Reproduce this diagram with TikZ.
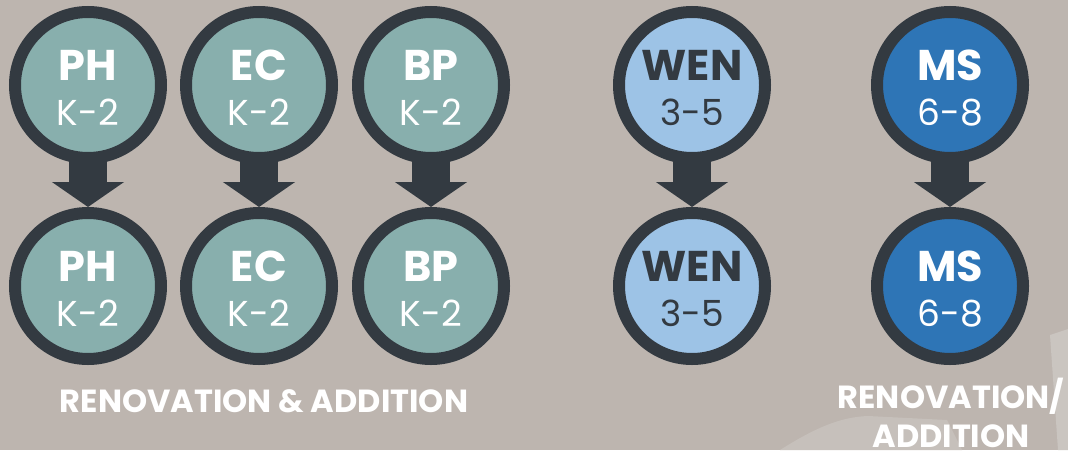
\documentclass[tikz,border=0pt]{standalone}
\usepackage{fontspec}
\setmainfont{Poppins}
\usetikzlibrary{arrows.meta,calc}
\definecolor{bgc}{HTML}{BDB5AF}
\definecolor{ringc}{HTML}{333A41}
\definecolor{tealc}{HTML}{88AFAD}
\definecolor{lbluec}{HTML}{9DC3E6}
\definecolor{bluec}{HTML}{2E75B6}
\definecolor{lightc}{HTML}{CAC5C0}
\definecolor{lightd}{HTML}{C6C0BB}
\begin{document}
\begin{tikzpicture}[x=1pt,y=-1pt,
  ring/.style={circle, draw=ringc, line width=12pt, minimum size=146pt, inner sep=0pt},
  conn/.style={draw=ringc, line width=38pt, -{Triangle[length=25pt,width=71pt]}, shorten <=-6pt},
  big/.style={anchor=base, inner sep=0pt, font=\fontsize{43}{43}\selectfont\bfseries},
  small/.style={anchor=base, inner sep=0pt, font=\fontsize{36}{36}\selectfont},
  foot/.style={anchor=base, inner sep=0pt, text=white, font=\fontsize{32}{32}\selectfont\bfseries}]
\useasboundingbox (0,0) rectangle (1068,450);
\fill[bgc] (0,0) rectangle (1068,450);
\fill[lightd] (780,450) .. controls (815,428) and (840,417) .. (868,416) -- (947,420) -- (962,450) -- cycle;
\fill[lightc] (1050,335) -- (1068,329) -- (1068,450) -- (1058,450) -- cycle;
% circles
\foreach \n/\x/\f/\t/\a/\b in {ph/88/tealc/white/PH/K-2, ec/259/tealc/white/EC/K-2, bp/431/tealc/white/BP/K-2, wen/692/lbluec/ringc/WEN/3-5, ms/950/bluec/white/MS/6-8}{
  \node[ring, fill=\f] (\n1) at (\x,85) {};
  \node[ring, fill=\f] (\n2) at (\x,286) {};
  \node[big, text=\t] (\n1a) at ($(\n1)+(0,-5)$) {\a};
  \node[small, text=\t] (\n1b) at ($(\n1)+(0,40)$) {\b};
  \node[big, text=\t] (\n2a) at ($(\n2)+(0,-5)$) {\a};
  \node[small, text=\t] (\n2b) at ($(\n2)+(0,40)$) {\b};
  \draw[conn] (\n1) -- (\n2);
}
\node[foot] (f1) at (264,412) {RENOVATION \& ADDITION};
\node[foot] (f2) at (951,408) {RENOVATION/};
\node[foot] (f3) at (951,447) {ADDITION};
\end{tikzpicture}
\end{document}
